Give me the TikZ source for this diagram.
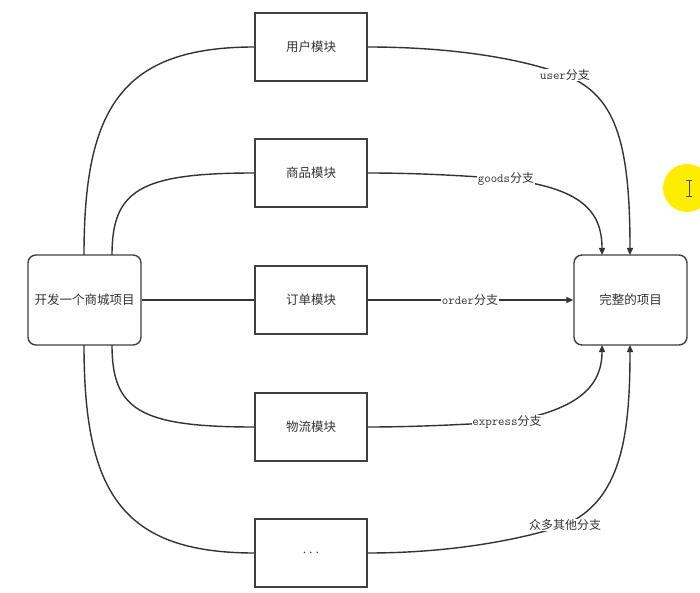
\documentclass[tikz,border=0pt]{standalone}
\usepackage{fontspec}
\newfontfamily\cjk{Noto Sans CJK SC}
\usetikzlibrary{arrows.meta}
\begin{document}
\begin{tikzpicture}[x=1pt,y=-1pt,
  mod/.style={draw=black!75,line width=1.4pt,minimum width=112pt,minimum height=68pt,inner sep=0pt,font=\cjk\fontsize{12.5}{14}\selectfont,text=black!80},
  big/.style={draw=black!75,line width=1.4pt,rounded corners=8pt,minimum width=113pt,minimum height=90pt,inner sep=0pt,font=\cjk\fontsize{12.5}{14}\selectfont,text=black!80},
  lbl/.style={fill=white,inner sep=0.5pt,text=black!80,font=\cjk\fontsize{12}{14}\selectfont},
  lat/.style={},
  con/.style={draw=black!80,line width=1.4pt},
  arr/.style={con,-{Triangle[length=7pt,width=6pt]}}]
\useasboundingbox (0,0) rectangle (700,593);
\fill[white] (0,0) rectangle (700,593);

\node[big] (s) at (84.5,300) {开发一个商城项目};
\node[big] (f) at (630.5,300) {完整的项目};
\node[mod] (u) at (311,47) {用户模块};
\node[mod] (g) at (311,173) {商品模块};
\node[mod] (o) at (311,300) {订单模块};
\node[mod] (e) at (311,427) {物流模块};
\node[mod] (m) at (311,553) {\fontsize{15}{16}\selectfont$\cdots$};

% left side connectors
\coordinate (s1) at (84,255);
\coordinate (s2) at (112,255);
\coordinate (s3) at (112,345);
\coordinate (s4) at (84,345);
\draw[con] (s1) .. controls (84,110) and (120,47) .. (u.west);
\draw[con] (s2) .. controls (112,190) and (140,173) .. (g.west);
\draw[con] (s.east) -- (o.west);
\draw[con] (s3) .. controls (112,410) and (140,427) .. (e.west);
\draw[con] (s4) .. controls (84,490) and (120,553) .. (m.west);

% right side connectors
\coordinate (lu) at (565,75);
\coordinate (lg) at (506,179);
\coordinate (lo) at (470,300);
\coordinate (le) at (507,422);
\coordinate (lm) at (565,525);
\coordinate (t1) at (630,255);
\coordinate (t2) at (602,255);
\coordinate (b2) at (602,345);
\coordinate (b1) at (630,345);

\draw[con] (u.east) .. controls (450,47) and (520,58) .. (lu);
\draw[arr] (lu) .. controls (615,95) and (630,140) .. (t1);
\draw[con] (g.east) .. controls (420,173) and (470,176) .. (lg);
\draw[arr] (lg) .. controls (580,188) and (602,210) .. (t2);
\draw[arr] (o.east) -- (f.west);
\draw[con] (e.east) .. controls (420,427) and (470,424) .. (le);
\draw[arr] (le) .. controls (580,410) and (602,385) .. (b2);
\draw[con] (m.east) .. controls (450,553) and (520,540) .. (lm);
\draw[arr] (lm) .. controls (620,500) and (630,440) .. (b1);

\node[lbl] at (lu) {{\ttfamily\fontsize{12.5}{13}\selectfont user}分支};
\node[lbl] at (lg) {{\ttfamily\fontsize{12.5}{13}\selectfont goods}分支};
\node[lbl] at (lo) {{\ttfamily\fontsize{12.5}{13}\selectfont order}分支};
\node[lbl] at (le) {{\ttfamily\fontsize{12.5}{13}\selectfont express}分支};
\node[lbl] at (lm) {众多其他分支};

% cursor highlight
\fill[yellow!95!orange] (687,188) circle (24);
\draw[black!70,line width=1pt] (689,181) -- (689,197) (686,181) -- (692,181) (686,197) -- (692,197);
\end{tikzpicture}
\end{document}
